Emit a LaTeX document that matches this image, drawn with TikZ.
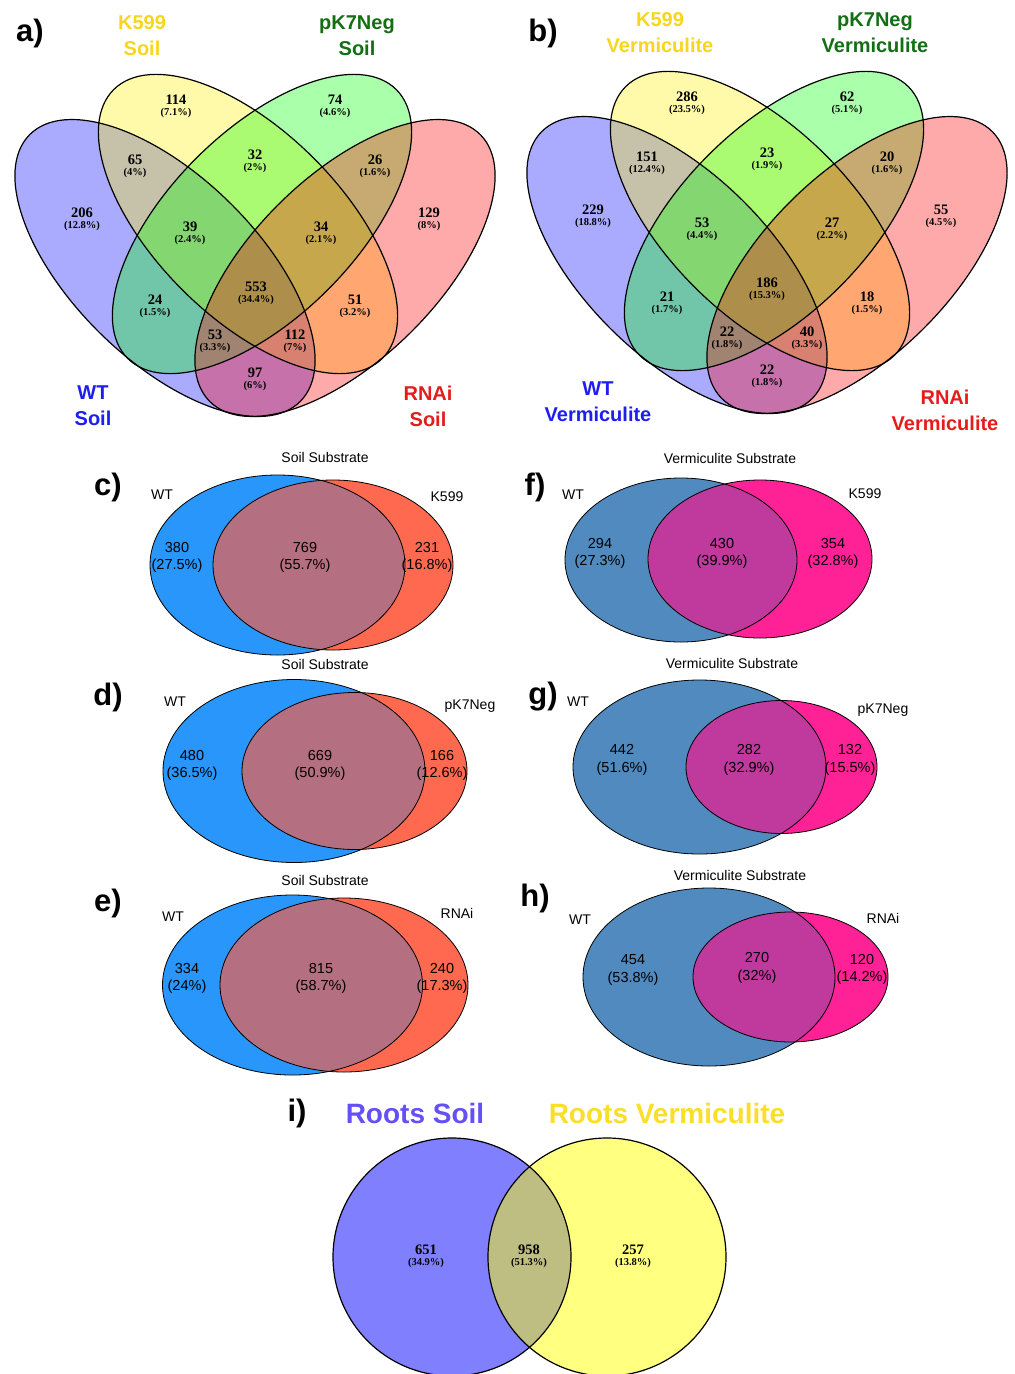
\documentclass[tikz,border=0pt]{standalone}
\usepackage{fontspec}
\setmainfont{Liberation Serif}
\setsansfont{Liberation Sans}
\definecolor{tK}{RGB}{248,214,30}
\definecolor{tP}{RGB}{20,110,20}
\definecolor{tW}{RGB}{30,30,240}
\definecolor{tR}{RGB}{228,28,28}
\definecolor{soilA}{RGB}{40,150,250}
\definecolor{soilB}{RGB}{255,105,80}
\definecolor{soilC}{RGB}{180,112,128}
\definecolor{vermA}{RGB}{80,138,190}
\definecolor{vermB}{RGB}{255,33,150}
\definecolor{vermC}{RGB}{192,58,158}
\definecolor{rootA}{RGB}{128,128,255}
\definecolor{rootB}{RGB}{255,255,128}
\definecolor{rootC}{RGB}{190,190,130}
\definecolor{rootTA}{RGB}{100,80,245}
\definecolor{rootTB}{RGB}{250,222,40}
\newcommand\quadlab[5]{%
  \node[num] (#1n) at (#2,#3) {#4};
  \node[pct] (#1p) at (#2,#3+13) {(#5\%)};}
\newcommand\quadshapes{%
  \fill[qfill=blue, rotate around={-44.5:(165,268)}] (165,268) ellipse [x radius=190, y radius=92];
  \fill[qfill=yellow, rotate around={-45:(248,224)}] (248,224) ellipse [x radius=190, y radius=93];
  \fill[qfill=green, rotate around={45:(262,224)}] (262,224) ellipse [x radius=190, y radius=93];
  \fill[qfill=red, rotate around={44.5:(345,268)}] (345,268) ellipse [x radius=190, y radius=92];
  \draw[qline, rotate around={-44.5:(165,268)}] (165,268) ellipse [x radius=190, y radius=92];
  \draw[qline, rotate around={-45:(248,224)}] (248,224) ellipse [x radius=190, y radius=93];
  \draw[qline, rotate around={45:(262,224)}] (262,224) ellipse [x radius=190, y radius=93];
  \draw[qline, rotate around={44.5:(345,268)}] (345,268) ellipse [x radius=190, y radius=92];}
\newcommand\twovenn[9]{%
  \fill[#9A] (#1,#2) ellipse [x radius=#3, y radius=#4];
  \fill[#9B] (#5,#6) ellipse [x radius=#7, y radius=#8];
  \begin{scope}
    \clip (#1,#2) ellipse [x radius=#3, y radius=#4];
    \fill[#9C] (#5,#6) ellipse [x radius=#7, y radius=#8];
  \end{scope}
  \draw[tline] (#1,#2) ellipse [x radius=#3, y radius=#4];
  \draw[tline] (#5,#6) ellipse [x radius=#7, y radius=#8];}
\begin{document}
\begin{tikzpicture}[x=1pt,y=-1pt,
  qfill/.style={fill=#1, fill opacity=0.3333},
  qline/.style={draw=black, line width=1.2pt},
  tline/.style={draw=black, line width=0.8pt},
  num/.style={font=\fontsize{14.5}{15}\selectfont\bfseries, inner sep=0pt},
  pct/.style={font=\fontsize{10.5}{11}\selectfont\bfseries, inner sep=0pt},
  letter/.style={font=\fontsize{31}{31}\selectfont\sffamily\bfseries, inner sep=0pt},
  settitle/.style={font=\fontsize{20}{26}\selectfont\sffamily\bfseries, align=center, inner sep=0pt},
  sub/.style={font=\fontsize{14}{16}\selectfont\sffamily, inner sep=0pt},
  cnt/.style={font=\fontsize{14.5}{17.5}\selectfont\sffamily, align=center, inner sep=0pt},
  roottitle/.style={font=\fontsize{28}{28}\selectfont\sffamily\bfseries, inner sep=0pt}]
\useasboundingbox (0,0) rectangle (1015,1374);
\clip (0,0) rectangle (1015,1374);
\fill[white] (0,0) rectangle (1015,1374);

% ---------------- panel a
\quadshapes
\node[letter] (la) at (30,33) {a)};
\node[settitle, text=tK] (aK) at (142,36) {K599\\Soil};
\node[settitle, text=tP] (aP) at (357,36) {pK7Neg\\Soil};
\node[settitle, text=tW] (aW) at (93,406) {WT\\Soil};
\node[settitle, text=tR] (aR) at (428,406) {RNAi\\Soil};
\quadlab{a1}{176}{100}{114}{7.1}
\quadlab{a2}{335}{100}{74}{4.6}
\quadlab{a3}{135}{160}{65}{4}
\quadlab{a4}{255}{155}{32}{2}
\quadlab{a5}{375}{160}{26}{1.6}
\quadlab{a6}{82}{213}{206}{12.8}
\quadlab{a7}{190}{227}{39}{2.4}
\quadlab{a8}{321}{227}{34}{2.1}
\quadlab{a9}{429}{213}{129}{8}
\quadlab{a10}{256}{287}{553}{34.4}
\quadlab{a11}{155}{300}{24}{1.5}
\quadlab{a12}{355}{300}{51}{3.2}
\quadlab{a13}{215}{335}{53}{3.3}
\quadlab{a14}{295}{335}{112}{7}
\quadlab{a15}{255}{373}{97}{6}

% ---------------- panel b
\begin{scope}[shift={(512,-3)}]
\quadshapes
\end{scope}
\node[letter] (lb) at (543,33) {b)};
\node[settitle, text=tK] (bK) at (660,33) {K599\\Vermiculite};
\node[settitle, text=tP] (bP) at (875,33) {pK7Neg\\Vermiculite};
\node[settitle, text=tW] (bW) at (598,402) {WT\\Vermiculite};
\node[settitle, text=tR] (bR) at (945,410) {RNAi\\Vermiculite};
\quadlab{b1}{687}{97}{286}{23.5}
\quadlab{b2}{847}{97}{62}{5.1}
\quadlab{b3}{647}{157}{151}{12.4}
\quadlab{b4}{767}{153}{23}{1.9}
\quadlab{b5}{887}{157}{20}{1.6}
\quadlab{b6}{593}{210}{229}{18.8}
\quadlab{b7}{702}{223}{53}{4.4}
\quadlab{b8}{832}{223}{27}{2.2}
\quadlab{b9}{941}{210}{55}{4.5}
\quadlab{b10}{767}{283}{186}{15.3}
\quadlab{b11}{667}{297}{21}{1.7}
\quadlab{b12}{867}{297}{18}{1.5}
\quadlab{b13}{727}{332}{22}{1.8}
\quadlab{b14}{807}{332}{40}{3.3}
\quadlab{b15}{767}{370}{22}{1.8}

% ---------------- panel c
\twovenn{277.5}{565}{127.5}{90}{333}{565}{120}{85}{soil}
\node[letter] (lc) at (108,487) {c)};
\node[sub] (hc) at (325,457) {Soil Substrate};
\node[sub] (cW) at (162,495) {WT};
\node[sub] (cK) at (447,497) {K599};
\node[cnt] (c1) at (177,557.5) {380\\(27.5\%)};
\node[cnt] (c2) at (305,557.5) {769\\(55.7\%)};
\node[cnt] (c3) at (427,557.5) {231\\(16.8\%)};

% ---------------- panel d
\twovenn{294}{771}{131}{91.5}{354.5}{771}{112.5}{78.5}{soil}
\node[letter] (ld) at (108,697) {d)};
\node[sub] (hd) at (325,664) {Soil Substrate};
\node[sub] (dW) at (175,702) {WT};
\node[sub] (dP) at (470,706) {pK7Neg};
\node[cnt] (d1) at (192,765.5) {480\\(36.5\%)};
\node[cnt] (d2) at (320,765.5) {669\\(50.9\%)};
\node[cnt] (d3) at (442,765.5) {166\\(12.6\%)};

% ---------------- panel e
\twovenn{292.5}{985}{130}{90}{344}{985}{124}{87}{soil}
\node[letter] (le) at (108,903) {e)};
\node[sub] (he) at (325,880) {Soil Substrate};
\node[sub] (eW) at (173,917) {WT};
\node[sub] (eR) at (457,913) {RNAi};
\node[cnt] (e1) at (187,978.5) {334\\(24\%)};
\node[cnt] (e2) at (321,978.5) {815\\(58.7\%)};
\node[cnt] (e3) at (442,978.5) {240\\(17.3\%)};

% ---------------- panel f
\twovenn{681}{560}{116}{82}{760}{559}{112}{79}{verm}
\node[letter] (lf) at (535,487) {f)};
\node[sub] (hf) at (730,458) {Vermiculite Substrate};
\node[sub] (fW) at (573,495) {WT};
\node[sub] (fK) at (865,494) {K599};
\node[cnt] (f1) at (600,553.5) {294\\(27.3\%)};
\node[cnt] (f2) at (722,553.5) {430\\(39.9\%)};
\node[cnt] (f3) at (833,553.5) {354\\(32.8\%)};

% ---------------- panel g
\twovenn{699.5}{767}{126.5}{87}{781.5}{767}{95.5}{66.5}{verm}
\node[letter] (lg) at (543,697) {g)};
\node[sub] (hg) at (732,663) {Vermiculite Substrate};
\node[sub] (gW) at (578,702) {WT};
\node[sub] (gP) at (883,710) {pK7Neg};
\node[cnt] (g1) at (622,760) {442\\(51.6\%)};
\node[cnt] (g2) at (749,760) {282\\(32.9\%)};
\node[cnt] (g3) at (850,760) {132\\(15.5\%)};

% ---------------- panel h
\twovenn{709}{977}{126}{89}{790.5}{977}{97.5}{65}{verm}
\node[letter] (lh) at (535,898) {h)};
\node[sub] (hh) at (740,875) {Vermiculite Substrate};
\node[sub] (hW) at (580,920) {WT};
\node[sub] (hR) at (883,918) {RNAi};
\node[cnt] (h1) at (633,970) {454\\(53.8\%)};
\node[cnt] (h2) at (757,968) {270\\(32\%)};
\node[cnt] (h3) at (862,969.5) {120\\(14.2\%)};

% ---------------- panel i
\fill[rootA] (452,1257) circle [radius=119];
\fill[rootB] (607,1257) circle [radius=119];
\begin{scope}
  \clip (452,1257) circle [radius=119];
  \fill[rootC] (607,1257) circle [radius=119];
\end{scope}
\draw[qline] (452,1257) circle [radius=119];
\draw[qline] (607,1257) circle [radius=119];
\node[letter] (li) at (297,1113) {i)};
\node[roottitle, text=rootTA] (iS) at (415,1113) {Roots Soil};
\node[roottitle, text=rootTB] (iV) at (667,1113) {Roots Vermiculite};
\quadlab{i1}{426}{1250}{651}{34.9}
\quadlab{i2}{529}{1250}{958}{51.3}
\quadlab{i3}{633}{1250}{257}{13.8}
\end{tikzpicture}
\end{document}
